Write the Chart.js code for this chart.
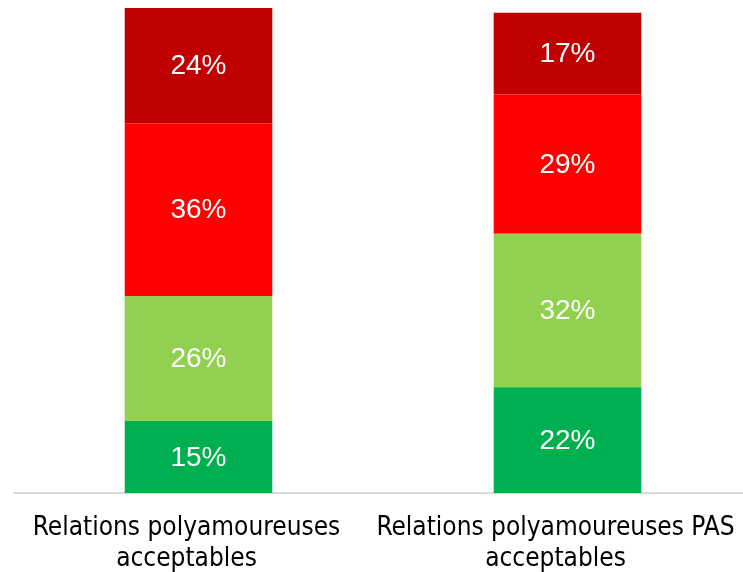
<!DOCTYPE html>
<html>
<head>
<meta charset="utf-8">
<script src="https://cdn.jsdelivr.net/npm/chart.js@4"></script>
<style>
  html, body { margin: 0; padding: 0; background: #fff; overflow: hidden; }
  #wrap { width: 752px; height: 572px; }
</style>
</head>
<body>
<div id="wrap"><canvas id="chart"></canvas></div>
<script>
// categories and series (percent)
const categories = [
  ["Relations polyamoureuses", "acceptables"],
  ["Relations polyamoureuses PAS", "acceptables"]
];
const darkGreenVals = [15, 22];
const lightGreenVals = [26, 32];
const redVals = [36, 29];
const darkRedVals = [24, 17];

// draw the % labels in the middle of each segment
const segmentLabels = {
  id: "segmentLabels",
  afterDatasetsDraw(chart) {
    const ctx = chart.ctx;
    ctx.save();
    ctx.fillStyle = "#ffffff";
    ctx.font = "28px 'Liberation Sans', Arial, sans-serif";
    ctx.textAlign = "center";
    ctx.textBaseline = "middle";
    chart.data.datasets.forEach((ds, i) => {
      const meta = chart.getDatasetMeta(i);
      meta.data.forEach((bar, j) => {
        const p = bar.getCenterPoint();
        ctx.fillText(ds.data[j] + "%", p.x, p.y + 1);
      });
    });
    ctx.restore();
  }
};

function makeSet(data, color) {
  return {
    data: data,
    backgroundColor: color,
    borderWidth: 0,
    barPercentage: 0.4,
    categoryPercentage: 1.0
  };
}

new Chart(document.getElementById("chart"), {
  type: "bar",
  data: {
    labels: categories,
    datasets: [
      makeSet(darkGreenVals, "#00B050"),
      makeSet(lightGreenVals, "#92D050"),
      makeSet(redVals, "#FF0000"),
      makeSet(darkRedVals, "#C00000")
    ]
  },
  options: {
    responsive: true,
    maintainAspectRatio: false,
    animation: false,
    layout: { padding: { top: 8, left: 14, right: 0, bottom: 0 } },
    plugins: {
      legend: { display: false },
      tooltip: { enabled: false }
    },
    scales: {
      x: {
        stacked: true,
        grid: { display: false },
        border: { display: true, color: "#d9d9d9", width: 2 },
        afterFit(scale) {
          // no extra side padding for the long labels, fixed label band
          scale.paddingLeft = 0;
          scale.paddingRight = 0;
          scale.height = 79;
        },
        ticks: {
          color: "#000000",
          padding: 12,
          labelOffset: -12,
          maxRotation: 0,
          autoSkip: false,
          font: { family: "'DejaVu Sans Condensed', 'Liberation Sans', sans-serif", size: 26, lineHeight: "31px" }
        }
      },
      y: {
        stacked: true,
        display: false,
        min: 0,
        max: 101
      }
    }
  },
  plugins: [segmentLabels]
});
</script>
</body>
</html>
